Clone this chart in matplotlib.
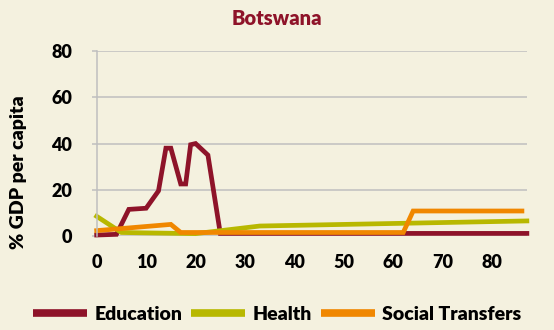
import matplotlib
matplotlib.use("Agg")
from matplotlib import pyplot as plt
import matplotlib.ticker as mticker

# age / share-of-GDP breakpoints for each transfer type
edu_age = [0, 4, 6.5, 10, 12.5, 14, 15, 17, 18, 19, 20, 22.5, 25, 87]
edu_pct = [0.4, 0.7, 11.5, 12, 19.5, 38, 38, 22.5, 22.5, 39.5, 40, 35, 1.1, 1.1]

health_age = [0, 5, 20, 33, 87]
health_pct = [8.5, 1.5, 1, 4.3, 6.5]

social_age = [0, 15, 17, 62, 64, 86]
social_pct = [2.3, 5, 1.5, 1.5, 10.8, 10.8]

x_ticks = [0, 10, 20, 30, 40, 50, 60, 70, 80]
y_ticks = [0, 20, 40, 60, 80]

BG = "#F4F1DF"
GRID = "#BFBFBF"
W = 800

plt.rcParams['font.family'] = ['Lato', 'DejaVu Sans']
plt.rcParams['font.weight'] = W

fig = plt.figure(figsize=(5.54, 3.30), dpi=100, facecolor=BG)
ax = fig.add_axes([0.1745, 0.285, 0.7765, 0.56], facecolor=BG)

ax.plot(edu_age, edu_pct, color="#8E1329", lw=3.4, label="Education",
        solid_joinstyle="miter", clip_on=False)
ax.plot(health_age, health_pct, color="#B8B800", lw=3.4, label="Health",
        solid_joinstyle="miter", clip_on=False)
ax.plot(social_age, social_pct, color="#F08700", lw=3.4, label="Social Transfers",
        solid_joinstyle="miter", clip_on=False)

# AXES AND GRID
ax.set_xlim(0, 87)
ax.set_ylim(0, 80)
ax.xaxis.set_major_locator(mticker.FixedLocator(x_ticks))
ax.yaxis.set_major_locator(mticker.FixedLocator(y_ticks))
ax.yaxis.grid(True, color=GRID, lw=1.1)
ax.set_axisbelow(True)
for side in ("top", "right", "bottom"):
    ax.spines[side].set_visible(False)
ax.spines["left"].set_color(GRID)
ax.spines["left"].set_linewidth(1.1)
ax.tick_params(axis="y", length=3.5, color=GRID, width=1.1, pad=14,
               labelsize=13)
ax.tick_params(axis="x", length=0, pad=13, labelsize=13)
for lbl in ax.get_xticklabels() + ax.get_yticklabels():
    lbl.set_fontweight(W)

# TITLES
fig.text(0.5, 0.945, "Botswana", color="#8E1329", fontsize=14.5,
         fontweight=W, ha="center", va="center")
fig.text(0.034, 0.478, "% GDP per capita", fontsize=14, fontweight=W,
         rotation=90, ha="center", va="center")

fig.legend(loc="center", bbox_to_anchor=(0.5, 0.048), ncol=3,
           frameon=False, handlelength=2.8, handletextpad=0.36,
           columnspacing=0.46, borderpad=0, borderaxespad=0,
           prop={"weight": W, "size": 14})
for line in fig.legends[0].get_lines():
    line.set_linewidth(5.5)
    line.set_solid_capstyle("butt")

fig.savefig("out.png", dpi=100, facecolor=BG)
